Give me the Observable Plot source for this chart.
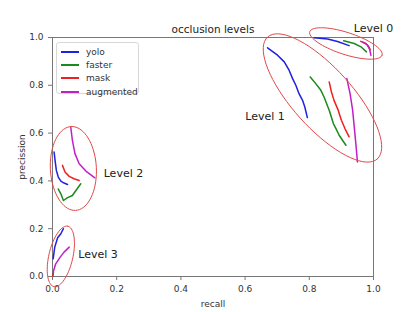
<!DOCTYPE html>
<html>
<head>
<meta charset="utf-8">
<script src="https://cdn.jsdelivr.net/npm/d3@7"></script>
<script src="https://cdn.jsdelivr.net/npm/@observablehq/plot@0.6"></script>
<style>
  html, body { margin: 0; padding: 0; background: #fff; }
  #wrap { position: relative; width: 415px; height: 312px; font-family: "DejaVu Sans", sans-serif; }
  #legend { position: absolute; left: 56px; top: 42px; width: 83px; height: 52px; border: 1px solid #d8d8d8; border-radius: 3px; background: rgba(255,255,255,0.85); box-sizing: border-box; padding-top: 2px; }
  .item { display: flex; align-items: center; height: 13.4px; font-size: 9px; color: #333; }
  .sw { display: inline-block; width: 18px; height: 2px; margin-left: 4px; margin-right: 7px; }
</style>
</head>
<body>
<div id="wrap"><div id="legend"></div></div>
<script>
// ---- data ----
const models = ["yolo", "faster", "mask", "augmented"];
const modelColors = ["#2020e0", "#1a8a1a", "#ee2020", "#c020c8"];
const ticks = [0, 0.2, 0.4, 0.6, 0.8, 1.0];

// [recall, precision] per level and model
const level0_yolo = [[0.815,0.999],[0.857,0.994],[0.888,0.983],[0.924,0.966]];
const level0_faster = [[0.907,0.986],[0.940,0.975],[0.961,0.961],[0.978,0.940]];
const level0_mask = [[0.960,0.984],[0.975,0.976],[0.985,0.962],[0.990,0.948]];
const level0_augmented = [[0.966,0.981],[0.980,0.970],[0.988,0.950],[0.992,0.925]];

const level1_yolo = [[0.670,0.957],[0.701,0.926],[0.722,0.898],[0.737,0.863],[0.748,0.828],[0.758,0.800],[0.768,0.765],[0.779,0.737],[0.786,0.709],[0.794,0.665]];
const level1_faster = [[0.803,0.835],[0.820,0.807],[0.836,0.779],[0.846,0.751],[0.862,0.696],[0.875,0.640],[0.883,0.619],[0.893,0.591],[0.914,0.549]];
const level1_mask = [[0.862,0.814],[0.869,0.772],[0.877,0.737],[0.890,0.696],[0.900,0.654],[0.911,0.619],[0.924,0.584]];
const level1_augmented = [[0.917,0.828],[0.927,0.765],[0.935,0.696],[0.940,0.626],[0.945,0.556],[0.950,0.479]];

const level2_yolo = [[0.005,0.521],[0.008,0.486],[0.012,0.444],[0.018,0.416],[0.026,0.399],[0.036,0.391],[0.047,0.385]];
const level2_faster = [[0.018,0.366],[0.026,0.346],[0.034,0.318],[0.047,0.330],[0.062,0.339],[0.088,0.388]];
const level2_mask = [[0.031,0.465],[0.039,0.437],[0.052,0.419],[0.067,0.409],[0.083,0.402]];
const level2_augmented = [[0.057,0.623],[0.062,0.570],[0.070,0.514],[0.083,0.472],[0.104,0.441],[0.132,0.413]];

const level3_yolo = [[0.002,0.074],[0.007,0.123],[0.016,0.162],[0.026,0.179],[0.034,0.200]];
const level3_faster = [[0.001,0.004],[0.003,0.018]];
const level3_mask = [[0.001,0.002],[0.002,0.012]];
const level3_augmented = [[0.002,0.018],[0.010,0.053],[0.024,0.081],[0.036,0.102],[0.052,0.123]];

// ---- build table ----
const curves = [
  ["Level 0", {yolo: level0_yolo, faster: level0_faster, mask: level0_mask, augmented: level0_augmented}],
  ["Level 1", {yolo: level1_yolo, faster: level1_faster, mask: level1_mask, augmented: level1_augmented}],
  ["Level 2", {yolo: level2_yolo, faster: level2_faster, mask: level2_mask, augmented: level2_augmented}],
  ["Level 3", {yolo: level3_yolo, faster: level3_faster, mask: level3_mask, augmented: level3_augmented}]
];
const rows = [];
for (const [level, byModel] of curves) {
  for (const m of models) {
    for (const [r, p] of byModel[m]) rows.push({level, model: m, key: level + m, recall: r, precision: p});
  }
}

// ---- layout ----
const W = 415, H = 312, mL = 52, mR = 42, mT = 37, mB = 36;
const kx = (W - mL - mR), ky = (H - mT - mB);

// annotation ellipses: data-space centre, pixel radii and tilt
const ellipses = [
  {level: "Level 0", cx: 0.914, cy: 0.975, a: 38, b: 11, deg: 18},
  {level: "Level 1", cx: 0.841, cy: 0.747, a: 82, b: 30, deg: 48},
  {level: "Level 2", cx: 0.065, cy: 0.452, a: 42, b: 23, deg: -93},
  {level: "Level 3", cx: 0.026, cy: 0.084, a: 31, b: 12, deg: -77}
];
const ellRows = [];
for (const e of ellipses) {
  const t = e.deg * Math.PI / 180;
  for (let i = 0; i <= 72; i++) {
    const u = i / 72 * 2 * Math.PI;
    const px = e.a * Math.cos(u) * Math.cos(t) - e.b * Math.sin(u) * Math.sin(t);
    const py = e.a * Math.cos(u) * Math.sin(t) + e.b * Math.sin(u) * Math.cos(t);
    ellRows.push({level: e.level, x: e.cx + px / kx, y: e.cy - py / ky});
  }
}
const labelRows = [
  {text: "Level 0", x: 1.0, y: 1.038},
  {text: "Level 1", x: 0.662, y: 0.669},
  {text: "Level 2", x: 0.221, y: 0.431},
  {text: "Level 3", x: 0.142, y: 0.092}
];

const chart = Plot.plot({
  width: W, height: H,
  marginLeft: mL, marginRight: mR, marginTop: mT, marginBottom: mB,
  style: {fontFamily: "DejaVu Sans, sans-serif", fontSize: "9px", color: "#333", background: "transparent", overflow: "visible"},
  x: {domain: [0, 1]},
  y: {domain: [0, 1]},
  color: {domain: models, range: modelColors},
  marks: [
    Plot.frame({stroke: "#777", strokeWidth: 1}),
    Plot.axisX({ticks, tickFormat: d3.format(".1f"), tickSize: 4, stroke: "#777", label: "recall", labelAnchor: "center", labelArrow: "none", labelOffset: 30, fill: "#333"}),
    Plot.axisY({ticks, tickFormat: d3.format(".1f"), tickSize: 4, stroke: "#777", label: "precission", labelAnchor: "center", labelArrow: "none", labelOffset: 34, fill: "#333"}),
    Plot.line(rows, {x: "recall", y: "precision", z: "key", stroke: "model", strokeWidth: 1.5, curve: "linear"}),
    Plot.line(ellRows, {x: "x", y: "y", z: "level", stroke: "#e04848", strokeWidth: 1, clip: false}),
    Plot.text(labelRows, {x: "x", y: "y", text: "text", fontSize: 11, fill: "#222", clip: false}),
    Plot.text(["occlusion levels"], {frameAnchor: "top", dy: -12, fontSize: 10.5, fill: "#222"})
  ]
});
document.getElementById("wrap").prepend(chart);

const legend = document.getElementById("legend");
models.forEach((m, i) => {
  const it = document.createElement("div");
  it.className = "item";
  const sw = document.createElement("span");
  sw.className = "sw";
  sw.style.backgroundColor = modelColors[i];
  const tx = document.createElement("span");
  tx.textContent = m;
  it.append(sw, tx);
  legend.append(it);
});
</script>
</body>
</html>
